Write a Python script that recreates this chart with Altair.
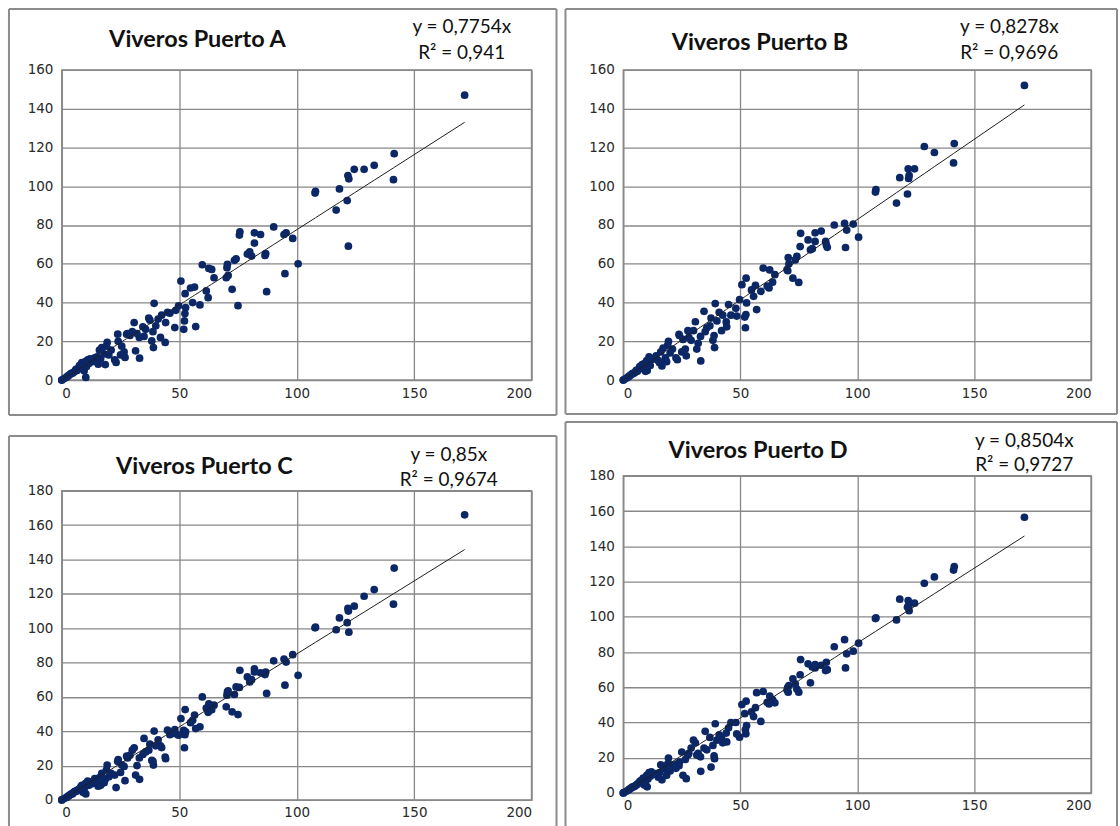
import altair as alt
import pandas as pd

# Observed values (shared x axis) and the four nursery estimates
x_obs = [171.5, 141.5, 141.2, 133.0, 128.7, 124.5, 122.2, 121.8, 121.5, 122.0,
         118.2, 116.8, 108.0, 107.8, 100.6, 98.3, 95.5, 94.6, 95.0, 90.2,
         86.8, 86.5, 87.2, 84.6, 82.0, 82.0, 80.0, 80.8, 79.0, 75.8,
         75.6, 75.0, 74.2, 73.5, 72.5, 70.5, 70.3, 70.0, 70.8, 64.8,
         63.8, 62.6, 62.3, 61.5, 59.8, 58.8, 57.0, 55.7, 56.5, 54.8,
         52.5, 50.7, 52.7, 52.4, 52.2, 51.9, 49.7, 48.5, 48.1, 46.0,
         45.0, 44.2, 44.0, 42.5, 42.0, 41.0, 40.0, 39.3, 39.0, 38.8,
         38.3, 37.5, 37.0, 35.7, 35.0, 34.5, 33.1, 33.0, 32.0, 31.4,
         30.8, 30.0, 29.0, 28.0, 27.6, 26.9, 26.5, 25.5, 25.0, 24.0,
         23.8, 23.1, 22.5, 21.0, 20.0, 19.3, 19.0, 18.5, 18.0, 17.0,
         16.5, 16.0, 15.5, 15.0, 14.0, 13.0, 12.0, 11.5, 11.0, 10.5,
         10.2, 10.0, 9.5, 9.0, 9.0, 8.5, 8.0, 7.5, 7.0, 6.5,
         6.0, 5.5, 5.0, 4.5, 4.0, 3.5, 3.0, 2.5, 2.0, 1.0,
         0.0, 0.0]

y_a = [147.0, 116.8, 103.4, 110.8, 108.7, 108.7, 103.8, 105.5, 92.6, 69.1,
       98.6, 87.7, 97.4, 96.5, 60.0, 73.1, 76.0, 75.1, 54.9, 79.0,
       65.2, 64.3, 45.6, 75.1, 76.0, 70.7, 66.2, 64.0, 65.0, 76.5,
       74.8, 38.4, 62.6, 61.8, 46.8, 59.7, 58.0, 52.8, 54.0, 52.8,
       57.1, 57.6, 42.5, 46.0, 59.5, 38.8, 27.6, 40.0, 48.0, 47.5,
       44.6, 51.1, 37.4, 34.3, 30.5, 26.2, 38.3, 36.0, 27.1, 34.5,
       35.0, 29.7, 19.4, 33.5, 22.0, 31.5, 28.0, 39.6, 16.8, 25.0,
       20.2, 30.9, 32.0, 26.2, 22.5, 27.5, 11.3, 22.0, 24.0, 15.1,
       29.7, 25.0, 23.0, 24.0, 23.7, 11.7, 14.5, 17.5, 13.0, 20.0,
       23.7, 9.1, 10.5, 15.5, 13.0, 19.4, 17.5, 8.0, 13.5, 16.8,
       11.0, 15.5, 8.2, 12.0, 11.5, 9.5, 11.0, 8.5, 10.5, 7.0,
       1.4, 9.5, 4.8, 8.0, 6.0, 9.0, 6.5, 7.5, 6.0, 5.0,
       5.5, 4.5, 4.0, 3.5, 3.5, 3.0, 2.5, 2.0, 1.5, 0.8,
       0.0, 0.0]

y_b = [152.0, 122.0, 112.0, 117.4, 120.5, 109.0, 105.6, 109.0, 96.0, 104.0,
       104.4, 91.3, 98.3, 97.0, 73.7, 80.5, 77.4, 80.8, 68.4, 80.0,
       69.7, 71.5, 68.5, 76.9, 76.0, 71.5, 67.2, 67.8, 72.3, 75.7,
       68.9, 50.4, 63.8, 62.0, 52.6, 63.2, 56.4, 57.0, 60.0, 54.4,
       50.5, 56.8, 47.5, 48.5, 57.8, 45.8, 36.4, 43.2, 48.9, 46.5,
       52.6, 49.2, 39.8, 33.8, 27.0, 32.5, 41.5, 33.0, 37.0, 33.5,
       39.0, 27.5, 30.0, 33.5, 25.5, 35.0, 30.5, 39.5, 16.8, 23.0,
       20.5, 32.0, 28.0, 27.0, 25.0, 35.5, 9.9, 22.5, 19.0, 16.0,
       30.1, 25.5, 20.5, 22.0, 25.5, 12.5, 16.0, 21.0, 14.5, 23.0,
       23.6, 10.5, 11.5, 16.0, 14.0, 20.0, 18.0, 9.5, 11.5, 16.5,
       7.3, 14.5, 9.0, 10.0, 12.5, 11.0, 10.5, 7.5, 12.0, 9.0,
       5.0, 10.0, 4.5, 8.5, 6.5, 7.0, 8.0, 6.0, 7.0, 5.5,
       4.5, 5.0, 4.0, 3.5, 3.5, 3.0, 2.5, 2.0, 1.5, 0.8,
       0.0, 0.0]

y_c = [166.0, 135.0, 114.0, 122.5, 118.6, 112.8, 97.7, 111.5, 103.2, 110.0,
       106.0, 99.1, 100.6, 100.2, 72.6, 84.6, 80.3, 82.0, 66.8, 81.0,
       74.5, 73.0, 62.0, 74.0, 76.4, 74.5, 68.7, 70.0, 71.6, 75.5,
       65.5, 49.7, 65.8, 61.4, 51.3, 62.9, 61.0, 54.2, 63.5, 55.2,
       52.5, 56.0, 51.0, 53.5, 60.0, 42.6, 41.6, 46.4, 49.4, 45.0,
       52.6, 47.4, 39.7, 38.0, 30.4, 40.5, 37.7, 38.5, 41.0, 38.0,
       40.6, 24.0, 25.0, 30.5, 31.5, 35.0, 31.5, 40.1, 20.3, 22.5,
       23.0, 32.5, 29.0, 28.0, 35.8, 26.5, 12.0, 24.5, 20.0, 14.5,
       30.4, 29.0, 26.0, 24.5, 25.5, 11.2, 19.5, 20.5, 16.0, 23.5,
       22.5, 7.2, 14.5, 15.5, 13.5, 20.3, 17.5, 12.0, 10.0, 15.5,
       8.5, 13.0, 8.0, 11.5, 12.5, 9.5, 10.5, 8.5, 11.0, 8.5,
       3.5, 9.5, 6.5, 7.0, 4.5, 8.5, 7.5, 6.5, 6.0, 5.5,
       5.0, 5.0, 4.5, 3.5, 3.5, 3.0, 2.5, 2.0, 1.5, 0.8,
       0.0, 0.0]

y_d = [156.5, 128.5, 126.5, 122.6, 119.0, 107.7, 103.5, 109.2, 105.5, 106.5,
       110.0, 98.2, 99.4, 99.0, 85.0, 80.5, 79.0, 87.0, 71.0, 83.0,
       74.2, 69.5, 70.0, 72.5, 72.9, 71.0, 62.5, 71.5, 73.3, 75.7,
       67.1, 57.2, 59.0, 62.0, 64.8, 57.2, 60.0, 58.5, 61.0, 51.2,
       53.0, 55.0, 50.5, 51.5, 57.6, 40.6, 56.9, 43.4, 48.4, 46.0,
       52.1, 50.2, 38.3, 33.6, 36.0, 45.0, 31.7, 33.5, 40.0, 39.9,
       37.0, 29.0, 34.0, 28.5, 31.5, 33.0, 30.0, 39.3, 19.5, 21.0,
       27.0, 14.7, 31.5, 24.5, 35.0, 25.5, 12.3, 20.5, 22.5, 21.5,
       28.5, 30.0, 25.5, 22.5, 21.5, 8.1, 19.0, 10.0, 23.2, 17.5,
       15.5, 16.5, 14.0, 16.0, 12.5, 19.8, 16.5, 10.0, 13.5, 14.5,
       7.5, 16.0, 11.5, 9.0, 11.0, 10.5, 12.0, 9.5, 11.5, 8.0,
       3.5, 10.0, 5.0, 7.5, 4.5, 8.5, 6.5, 7.0, 6.5, 5.5,
       5.0, 4.5, 4.0, 3.5, 3.5, 3.0, 2.5, 2.0, 1.5, 0.8,
       0.0, 0.0]

names = ["Viveros Puerto A", "Viveros Puerto B", "Viveros Puerto C", "Viveros Puerto D"]
series = [y_a, y_b, y_c, y_d]
slopes = [0.7754, 0.8278, 0.85, 0.8504]
r2_values = [0.941, 0.9696, 0.9674, 0.9727]
y_tops = [160, 160, 180, 180]
x_ticks = [0, 50, 100, 150, 200]

NAVY = "#0c2766"
GRID = "#888888"
FRAME = "#8c8c8c"
TITLE_FONT = "Lato"
LABEL_FONT = "DejaVu Sans"


def comma(v):
    return str(v).replace(".", ",")


def panel(i, width, height, title_xy, eq_xy, frame, closed_bottom):
    df = pd.DataFrame({"x": x_obs, "y": series[i]})
    base = alt.Chart(df)
    one = pd.DataFrame({"k": [0]})
    y_ticks = list(range(0, y_tops[i] + 1, 20))

    x_scale = alt.Scale(domain=[0, 200], nice=False, zero=True)
    y_scale = alt.Scale(domain=[0, y_tops[i]], nice=False, zero=True)
    x_axis = alt.Axis(values=x_ticks, tickCount=len(x_ticks), labelOverlap=False)
    y_axis = alt.Axis(values=y_ticks, tickCount=len(y_ticks), labelOverlap=False)

    pts = base.mark_circle(size=60, color=NAVY, opacity=1).encode(
        x=alt.X("x:Q", title=None, scale=x_scale, axis=x_axis),
        y=alt.Y("y:Q", title=None, scale=y_scale, axis=y_axis),
    )

    trend = (
        base.transform_calculate(fit=f"{slopes[i]} * datum.x")
        .mark_line(color="#1e1e1e", strokeWidth=1)
        .encode(
            x=alt.X("x:Q", title=None, scale=x_scale, axis=x_axis),
            y=alt.Y("fit:Q", title=None, scale=y_scale, axis=y_axis),
        )
    )

    title = alt.Chart(one).mark_text(
        text=names[i], font=TITLE_FONT, fontSize=23.5, fontWeight="bold",
        color="#111111", align="center", baseline="middle"
    ).encode(x=alt.value(title_xy[0]), y=alt.value(title_xy[1]))

    eq1 = alt.Chart(one).mark_text(
        text=f"y = {comma(slopes[i])}x", font=TITLE_FONT, fontSize=19,
        color="#111111", align="center", baseline="middle"
    ).encode(x=alt.value(eq_xy[0]), y=alt.value(eq_xy[1]))

    eq2 = alt.Chart(one).mark_text(
        text=f"R² = {comma(r2_values[i])}", font=TITLE_FONT, fontSize=19,
        color="#111111", align="center", baseline="middle"
    ).encode(x=alt.value(eq_xy[0]), y=alt.value(eq_xy[2]))

    # outer chart-area frame, drawn relative to the plot origin
    left, right, top, bottom = frame
    edge = dict(color=FRAME, strokeWidth=2)
    sides = [
        alt.Chart(one).mark_rule(**edge).encode(
            x=alt.value(left), x2=alt.value(right), y=alt.value(top), y2=alt.value(top)),
        alt.Chart(one).mark_rule(**edge).encode(
            x=alt.value(left), x2=alt.value(left), y=alt.value(top), y2=alt.value(bottom)),
        alt.Chart(one).mark_rule(**edge).encode(
            x=alt.value(right), x2=alt.value(right), y=alt.value(top), y2=alt.value(bottom)),
    ]
    if closed_bottom:
        sides.append(alt.Chart(one).mark_rule(**edge).encode(
            x=alt.value(left), x2=alt.value(right), y=alt.value(bottom), y2=alt.value(bottom)))

    return alt.layer(pts, trend, title, eq1, eq2, *sides).properties(width=width, height=height)


pa = panel(0, 471, 311, (136, -30), (401, -43, -17), (-53, 496, -61, 346), True)
pb = panel(1, 469, 311, (137, -27), (387, -43, -17), (-58, 495, -61, 345), True)
pc = panel(2, 471, 310, (143, -24), (388, -36, -11), (-53, 496, -55, 337), False)
pd_ = panel(3, 469, 318, (135, -25), (402, -35, -11), (-58, 495, -54, 352), False)

col1 = alt.vconcat(pa, pc, spacing=17)
col2 = alt.vconcat(pb, pd_, spacing=4)

chart = (
    alt.hconcat(col1, col2, spacing=5)
    .properties(padding={"left": 7, "top": 6, "right": 1, "bottom": 0}, background="white")
    .configure_view(stroke=GRID, strokeWidth=1.5)
    .configure_axis(
        grid=True, gridColor=GRID, gridWidth=1.3, domain=False, ticks=False,
        labelFont=LABEL_FONT, labelFontSize=13.5, labelColor="#2a2a2a",
        labelOverlap=False,
    )
    .configure_axisX(labelPadding=6)
    .configure_axisY(labelPadding=9)
)

chart.save("out.html", embed_options={"renderer": "svg", "actions": False})
